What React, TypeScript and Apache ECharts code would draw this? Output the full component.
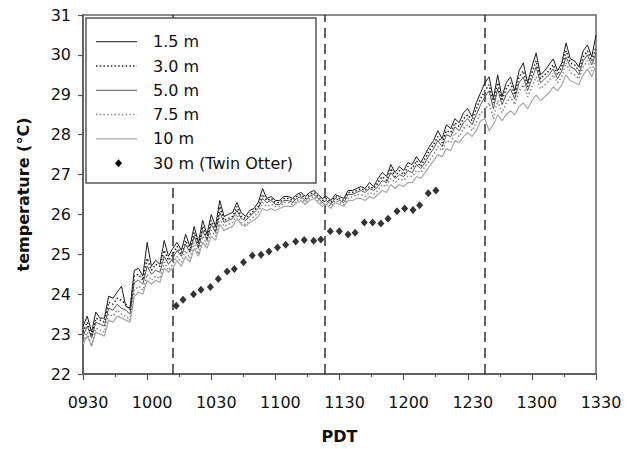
import React, { useEffect, useRef } from "react";
import * as echarts from "echarts";

// minutes after 09:30, sampled every 2 minutes (0..240)
const minutes: number[] = Array.from({ length: 121 }, (_, i) => i * 2);

const t15: number[] = [
  23.2, 23.45, 23.05, 23.55, 23.4, 23.4, 23.95, 23.9, 24.05, 24.2,
  23.7, 23.65, 24.6, 24.65, 24.45, 25.3, 24.7, 24.85, 24.75, 25.35,
  24.95, 25.15, 25.3, 25.1, 25.5, 25.2, 25.7, 25.3, 25.85, 25.5,
  26.0, 25.7, 26.35, 25.95, 26.0, 26.05, 26.3, 26.05, 25.95, 26.1,
  26.15, 26.3, 26.65, 26.4, 26.45, 26.35, 26.35, 26.45, 26.45, 26.4,
  26.5, 26.55, 26.45, 26.55, 26.6, 26.5, 26.4, 26.45, 26.35, 26.5,
  26.45, 26.4, 26.6, 26.6, 26.65, 26.7, 26.65, 26.8, 26.7, 26.9,
  27.05, 26.95, 27.25, 27.05, 27.2, 27.1, 27.3, 27.25, 27.45, 27.3,
  27.5, 27.7, 27.85, 28.1, 27.9, 28.25, 28.15, 28.4, 28.3, 28.55,
  28.65, 28.45, 28.8, 29.05, 29.3, 29.45, 28.9, 29.5, 28.95, 29.3,
  29.45, 29.1, 29.6, 29.8, 29.3, 29.7, 30.05, 29.5, 29.6, 29.75,
  29.9, 29.6, 29.8, 30.3, 29.9, 29.85, 29.7, 30.1, 30.25, 29.95,
  30.5,
];

const t30: number[] = [
  23.05, 23.3, 22.95, 23.4, 23.35, 23.3, 23.8, 23.75, 23.9, 23.85,
  23.75, 23.6, 24.45, 24.5, 24.35, 24.9, 24.6, 24.75, 24.7, 25.1,
  24.85, 25.0, 25.2, 25.0, 25.35, 25.1, 25.55, 25.2, 25.7, 25.4,
  25.85, 25.6, 26.2, 25.85, 25.9, 25.95, 26.2, 25.95, 25.9, 26.0,
  26.1, 26.2, 26.5, 26.35, 26.4, 26.3, 26.3, 26.4, 26.4, 26.35,
  26.45, 26.5, 26.4, 26.5, 26.55, 26.45, 26.35, 26.4, 26.3, 26.45,
  26.4, 26.35, 26.55, 26.55, 26.6, 26.65, 26.6, 26.7, 26.65, 26.8,
  26.95, 26.85, 27.15, 26.95, 27.1, 27.0, 27.2, 27.15, 27.35, 27.2,
  27.4, 27.6, 27.75, 27.95, 27.8, 28.1, 28.05, 28.3, 28.2, 28.4,
  28.5, 28.35, 28.65, 28.9, 29.1, 29.25, 28.8, 29.3, 28.85, 29.15,
  29.3, 29.0, 29.45, 29.6, 29.2, 29.55, 29.85, 29.4, 29.5, 29.6,
  29.75, 29.5, 29.7, 30.1, 29.8, 29.75, 29.6, 29.95, 30.1, 29.85,
  30.2,
];

const t50: number[] = [
  22.95, 23.2, 22.9, 23.3, 23.25, 23.2, 23.65, 23.6, 23.75, 23.65,
  23.6, 23.5, 24.3, 24.35, 24.25, 24.7, 24.5, 24.6, 24.55, 24.95,
  24.75, 24.9, 25.1, 24.95, 25.25, 25.05, 25.45, 25.15, 25.6, 25.35,
  25.75, 25.55, 26.05, 25.8, 25.85, 25.9, 26.1, 25.9, 25.85, 25.95,
  26.05, 26.15, 26.4, 26.3, 26.35, 26.25, 26.25, 26.35, 26.35, 26.3,
  26.4, 26.45, 26.35, 26.45, 26.5, 26.4, 26.3, 26.35, 26.25, 26.4,
  26.35, 26.3, 26.5, 26.5, 26.55, 26.6, 26.55, 26.65, 26.6, 26.7,
  26.85, 26.8, 27.05, 26.9, 27.0, 26.95, 27.1, 27.05, 27.25, 27.15,
  27.3, 27.5, 27.65, 27.85, 27.7, 28.0, 27.95, 28.2, 28.1, 28.3,
  28.4, 28.25, 28.5, 28.75, 28.95, 29.1, 28.65, 29.15, 28.75, 29.0,
  29.15, 28.9, 29.3, 29.45, 29.1, 29.4, 29.7, 29.3, 29.4, 29.5,
  29.65, 29.4, 29.6, 29.95, 29.7, 29.65, 29.5, 29.85, 30.0, 29.75,
  30.05,
];

const t75: number[] = [
  22.8, 23.05, 22.7, 23.15, 23.1, 23.05, 23.5, 23.45, 23.6, 23.5,
  23.45, 23.35, 24.1, 24.2, 24.1, 24.5, 24.35, 24.45, 24.4, 24.8,
  24.6, 24.75, 24.95, 24.8, 25.1, 24.9, 25.3, 25.0, 25.45, 25.25,
  25.6, 25.45, 25.9, 25.7, 25.75, 25.8, 26.0, 25.8, 25.75, 25.85,
  25.95, 26.05, 26.3, 26.2, 26.25, 26.2, 26.2, 26.3, 26.3, 26.25,
  26.35, 26.4, 26.3, 26.4, 26.45, 26.35, 26.25, 26.3, 26.2, 26.35,
  26.3, 26.25, 26.4, 26.45, 26.5, 26.5, 26.45, 26.55, 26.5, 26.6,
  26.75, 26.7, 26.9, 26.8, 26.9, 26.85, 26.95, 26.95, 27.1, 27.05,
  27.2, 27.35, 27.5, 27.7, 27.6, 27.85, 27.8, 28.05, 27.95, 28.15,
  28.25, 28.1, 28.3, 28.55, 28.6, 28.8, 28.4, 28.85, 28.55, 28.8,
  28.95, 28.75, 29.1, 29.25, 28.95, 29.2, 29.45, 29.15, 29.25, 29.35,
  29.5, 29.3, 29.45, 29.8, 29.55, 29.5, 29.4, 29.7, 29.85, 29.6,
  29.9,
];

const t100: number[] = [
  22.75, 22.95, 22.7, 23.05, 23.0, 22.95, 23.35, 23.3, 23.45, 23.4,
  23.35, 23.3, 23.95, 24.05, 24.0, 24.35, 24.25, 24.35, 24.3, 24.65,
  24.55, 24.65, 24.85, 24.7, 24.95, 24.8, 25.15, 24.95, 25.3, 25.15,
  25.45, 25.35, 25.75, 25.6, 25.65, 25.7, 25.9, 25.75, 25.7, 25.8,
  25.85, 25.95, 26.15, 26.1, 26.15, 26.1, 26.15, 26.2, 26.2, 26.2,
  26.3, 26.35, 26.25, 26.35, 26.4, 26.3, 26.2, 26.25, 26.15, 26.3,
  26.25, 26.2, 26.35, 26.35, 26.4, 26.4, 26.35, 26.45, 26.4, 26.5,
  26.6, 26.55, 26.75, 26.65, 26.75, 26.7, 26.8, 26.8, 26.95, 26.9,
  27.05, 27.2, 27.35, 27.5, 27.45, 27.65, 27.6, 27.85, 27.8, 27.95,
  28.05, 27.95, 28.1, 28.35, 28.4, 28.1, 28.25, 28.5, 28.35, 28.5,
  28.6, 28.5, 28.7, 28.8, 28.65, 28.85, 29.0, 28.85, 28.95, 29.05,
  29.2, 29.1, 29.25, 29.5, 29.35, 29.3, 29.25, 29.5, 29.65, 29.45,
  29.75,
];

// Twin Otter aircraft samples (minutes after 09:30, temperature)
const otterMinutes: number[] = [
  43.6, 46.8, 51.7, 55.2, 59.6, 63.3, 67.4, 70.8, 75.1, 79.2, 83.3,
  87.0, 91.0, 94.8, 99.5, 103.5, 107.9, 111.3, 115.7, 119.9, 124.0,
  127.3, 131.6, 135.5, 139.4, 142.7, 146.9, 150.5, 154.4, 157.5, 161.5, 165.1,
];
const otterTemps: number[] = [
  23.71, 23.86, 24.0, 24.11, 24.18, 24.38, 24.57, 24.63, 24.8, 24.97, 24.99,
  25.07, 25.17, 25.24, 25.32, 25.36, 25.34, 25.37, 25.58, 25.58, 25.5,
  25.54, 25.8, 25.8, 25.77, 25.89, 26.08, 26.15, 26.11, 26.23, 26.53, 26.6,
];

// dashed reference times (minutes after 09:30)
const markTimes: number[] = [42, 113, 188];

const seriesNames: string[] = ["1.5 m", "3.0 m", "5.0 m", "7.5 m", "10 m", "30 m (Twin Otter)"];

const fmtTime = (v: number): string => {
  const total = 9 * 60 + 30 + v;
  const h = Math.floor(total / 60);
  const m = Math.round(total % 60);
  return `${String(h).padStart(2, "0")}${String(m).padStart(2, "0")}`;
};

const FONT = "DejaVu Sans";

type LineLook = { color: string; width: number; dash: number[] | null };
const looks: LineLook[] = [
  { color: "#1a1a1a", width: 1, dash: null },
  { color: "#222", width: 1.5, dash: [1.5, 2.2] },
  { color: "#555", width: 1, dash: null },
  { color: "#888", width: 1.5, dash: [1.5, 2.2] },
  { color: "#a8a8a8", width: 1.2, dash: null },
];

export default function App() {
  const ref = useRef<HTMLDivElement>(null);

  useEffect(() => {
    document.body.style.margin = "0";
    if (!ref.current) return;
    const chart = echarts.init(ref.current, undefined, { renderer: "svg" });

    const pair = (arr: number[]) => minutes.map((t, i) => [t, arr[i]]);
    const arrays = [t15, t30, t50, t75, t100];

    const lineSeries = arrays.map((arr, i) => ({
      name: seriesNames[i],
      type: "line",
      data: pair(arr),
      showSymbol: false,
      symbol: "none",
      z: 2.5 - i * 0.1,
      lineStyle: { color: looks[i].color, type: looks[i].dash ?? "solid", width: looks[i].width },
      itemStyle: { color: looks[i].color },
    }));
    (lineSeries[0] as any).markLine = {
      silent: true,
      symbol: "none",
      z: 1,
      label: { show: false },
      lineStyle: { color: "#333", type: [10, 6], width: 1.5 },
      data: markTimes.map((t) => ({ xAxis: t })),
    };

    // hand-built legend
    const legendX0 = 96;
    const legendX1 = 137;
    const legendTextX = 153;
    const rowY = (i: number) => 41.7 + i * 24.3;
    const legendEls: any[] = [
      {
        type: "rect",
        z: 20,
        shape: { x: 86, y: 18, width: 230, height: 165 },
        style: { fill: "#fff", stroke: "#555", lineWidth: 1.5 },
        silent: true,
      },
    ];
    seriesNames.forEach((name, i) => {
      const y = rowY(i);
      if (i < 5) {
        legendEls.push({
          type: "line",
          z: 21,
          silent: true,
          shape: { x1: legendX0, y1: y, x2: legendX1, y2: y },
          style: { stroke: looks[i].color, lineWidth: looks[i].width, lineDash: looks[i].dash ?? undefined },
        });
      } else {
        const cx = (legendX0 + legendX1) / 2 + 2;
        legendEls.push({
          type: "polygon",
          z: 21,
          silent: true,
          shape: { points: [[cx, y - 4], [cx + 3.5, y], [cx, y + 4], [cx - 3.5, y]] },
          style: { fill: "#000" },
        });
      }
      legendEls.push({
        type: "text",
        z: 21,
        silent: true,
        x: legendTextX,
        y,
        style: { text: name, fontFamily: FONT, fontSize: 16, fill: "#111", verticalAlign: "middle", align: "left" },
      });
    });

    chart.setOption({
      animation: false,
      backgroundColor: "#fff",
      grid: {
        left: 83,
        right: 32,
        top: 15,
        bottom: 74.5,
        show: true,
        borderColor: "#666",
        borderWidth: 1.5,
      },
      xAxis: {
        type: "value",
        min: 0,
        max: 240,
        interval: 30,
        name: "PDT",
        nameLocation: "middle",
        nameGap: 54,
        nameTextStyle: { fontFamily: FONT, fontWeight: "bold", fontSize: 16, color: "#111" },
        axisLine: { lineStyle: { color: "#555", width: 1.5 } },
        axisTick: { show: true, length: 6, lineStyle: { color: "#555", width: 1.2 } },
        minorTick: { show: true, splitNumber: 2, length: 3, lineStyle: { color: "#555", width: 1.2 } },
        splitLine: { show: false },
        minorSplitLine: { show: false },
        axisLabel: {
          formatter: (v: number) => fmtTime(v),
          fontFamily: FONT,
          fontSize: 16,
          color: "#111",
          margin: 20,
          padding: [0, 0, 0, 10],
        },
      },
      yAxis: {
        type: "value",
        min: 22,
        max: 31,
        interval: 1,
        name: "temperature (°C)",
        nameLocation: "middle",
        nameGap: 52,
        nameTextStyle: { fontFamily: FONT, fontWeight: "bold", fontSize: 16, color: "#111" },
        axisLine: { show: true, lineStyle: { color: "#555", width: 1.5 } },
        axisTick: { show: true, length: 5, lineStyle: { color: "#555", width: 1.2 } },
        splitLine: { show: false },
        axisLabel: { fontFamily: FONT, fontSize: 16, color: "#111", margin: 12 },
      },
      graphic: legendEls,
      series: [
        ...lineSeries,
        {
          name: seriesNames[5],
          type: "scatter",
          data: otterMinutes.map((t, i) => [t, otterTemps[i]]),
          symbol: "diamond",
          symbolSize: [7, 8],
          itemStyle: { color: "#000" },
          z: 2.6,
        },
      ],
    });

    return () => chart.dispose();
  }, []);

  return <div ref={ref} style={{ width: 628, height: 449 }} />;
}
